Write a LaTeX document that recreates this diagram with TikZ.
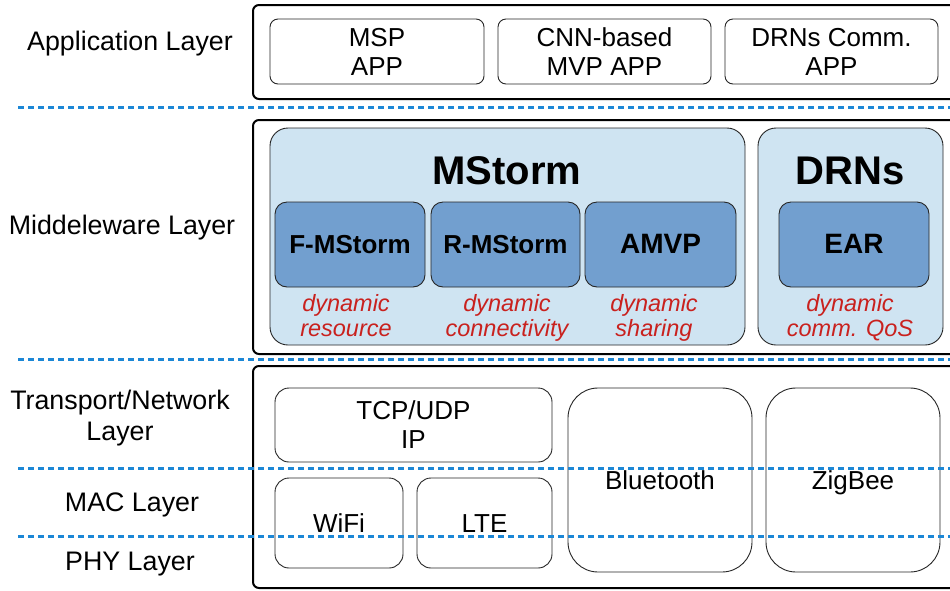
\documentclass[tikz,border=0pt]{standalone}
\usepackage{fontspec}
\setmainfont{Liberation Sans}
\usetikzlibrary{positioning}
\definecolor{sepblue}{HTML}{1C87D6}
\definecolor{paleblue}{HTML}{CFE4F2}
\definecolor{modblue}{HTML}{729FCF}
\definecolor{noteRed}{HTML}{C9211E}
% invisible rule that keeps one-line labels on a common centre line
\newcommand{\balstrut}{\rule[-6pt]{0pt}{30.6pt}}
\tikzset{
  layerbox/.style={draw=black, line width=2pt, rounded corners=6pt},
  plainbox/.style={draw=black!85, line width=0.9pt, fill=white, align=center,
    font=\fontsize{26}{29}\selectfont},
  groupbox/.style={draw=black!85, line width=0.9pt, fill=paleblue, rounded corners=18pt},
  modbox/.style={draw=black!85, line width=0.9pt, fill=modblue, rounded corners=12pt,
    font=\fontsize{26}{29}\selectfont\bfseries},
  grouptitle/.style={font=\fontsize{40}{44}\selectfont\bfseries},
  note/.style={text=noteRed, align=center, font=\fontsize{23.5}{25}\selectfont\itshape},
  layerlabel/.style={align=center, font=\fontsize{26.8}{31}\selectfont},
  separator/.style={draw=sepblue, line width=3pt, dash pattern=on 6pt off 4pt},
}
\begin{document}
\begin{tikzpicture}[x=1pt, y=-1pt]
\clip (0,0) rectangle (950,590);
\fill[white] (0,0) rectangle (950,590);

% layer names on the left
\node[layerlabel] (lapp) at (130,44) {Application Layer};
\node[layerlabel] (lmid) at (122,228) {Middeleware Layer};
\node[layerlabel] (ltn)  at (120,418) {Transport/Network\\Layer};
\node[layerlabel] (lmac) at (132,505) {MAC Layer};
\node[layerlabel] (lphy) at (130,564) {PHY Layer};

% application layer
\node[layerbox, minimum width=707pt, minimum height=94pt] (appL) at (606.5,52) {};
\node[plainbox, rounded corners=8pt, minimum width=214pt, minimum height=65pt] (msp) at (377,51.5) {MSP\\APP};
\node[plainbox, rounded corners=8pt, minimum width=213pt, minimum height=65pt] (cnn) at (604.5,51.5) {CNN-based\\MVP APP};
\node[plainbox, rounded corners=8pt, minimum width=213pt, minimum height=65pt] (drnapp) at (831.5,51.5) {DRNs Comm.\\APP};

% middleware layer
\node[layerbox, minimum width=707pt, minimum height=234pt] (midL) at (606.5,237) {};
\node[groupbox, minimum width=475pt, minimum height=217pt] (mstorm) at (507.5,236.5) {};
\node[groupbox, minimum width=185pt, minimum height=217pt] (drns) at (850.5,236.5) {};
\node[grouptitle] (mstormT) at (507,171) {MStorm};
\node[grouptitle] (drnsT) at (850,171) {DRNs};
\node[modbox, minimum width=150pt, minimum height=85pt] (fms) at (350,244.5) {\balstrut F-MStorm};
\node[modbox, minimum width=149pt, minimum height=85pt] (rms) at (505.5,244.5) {\balstrut R-MStorm};
\node[modbox, minimum width=151pt, minimum height=85pt, font=\fontsize{28}{30}\selectfont\bfseries] (amvp) at (660.5,244.5) {\balstrut AMVP};
\node[modbox, minimum width=150pt, minimum height=85pt, font=\fontsize{28}{30}\selectfont\bfseries] (ear) at (854,244.5) {\balstrut EAR};
\node[note] (nfms) at (346,319) {dynamic\strut\\resource\strut};
\node[note] (nrms) at (507,319) {dynamic\strut\\connectivity\strut};
\node[note] (namvp) at (654,319) {dynamic\strut\\sharing\strut};
\node[note] (near) at (850,319) {dynamic\strut\\comm. QoS\strut};

% transport, MAC and PHY layers
\node[layerbox, minimum width=707pt, minimum height=222pt] (lowL) at (606.5,477) {};
\node[plainbox, rounded corners=14pt, minimum width=277pt, minimum height=74pt] (tcp) at (413.5,425) {TCP/UDP\\IP};
\node[plainbox, rounded corners=14pt, minimum width=128pt, minimum height=90pt] (wifi) at (339,523) {\balstrut WiFi};
\node[plainbox, rounded corners=14pt, minimum width=135pt, minimum height=90pt] (lte) at (484.5,523) {\balstrut LTE};
\node[plainbox, rounded corners=30pt, minimum width=184pt, minimum height=184pt] (bt) at (660,480) {\balstrut Bluetooth};
\node[plainbox, rounded corners=30pt, minimum width=174pt, minimum height=184pt] (zig) at (853,480) {\balstrut ZigBee};

% dashed layer separators
\coordinate (s1a) at (18,107);  \coordinate (s1b) at (950,107);
\coordinate (s2a) at (18,359);  \coordinate (s2b) at (950,359);
\coordinate (s3a) at (18,468);  \coordinate (s3b) at (950,468);
\coordinate (s4a) at (18,536);  \coordinate (s4b) at (950,536);
\draw[separator] (s1a) -- (s1b);
\draw[separator] (s2a) -- (s2b);
\draw[separator] (s3a) -- (s3b);
\draw[separator] (s4a) -- (s4b);
\end{tikzpicture}
\end{document}
